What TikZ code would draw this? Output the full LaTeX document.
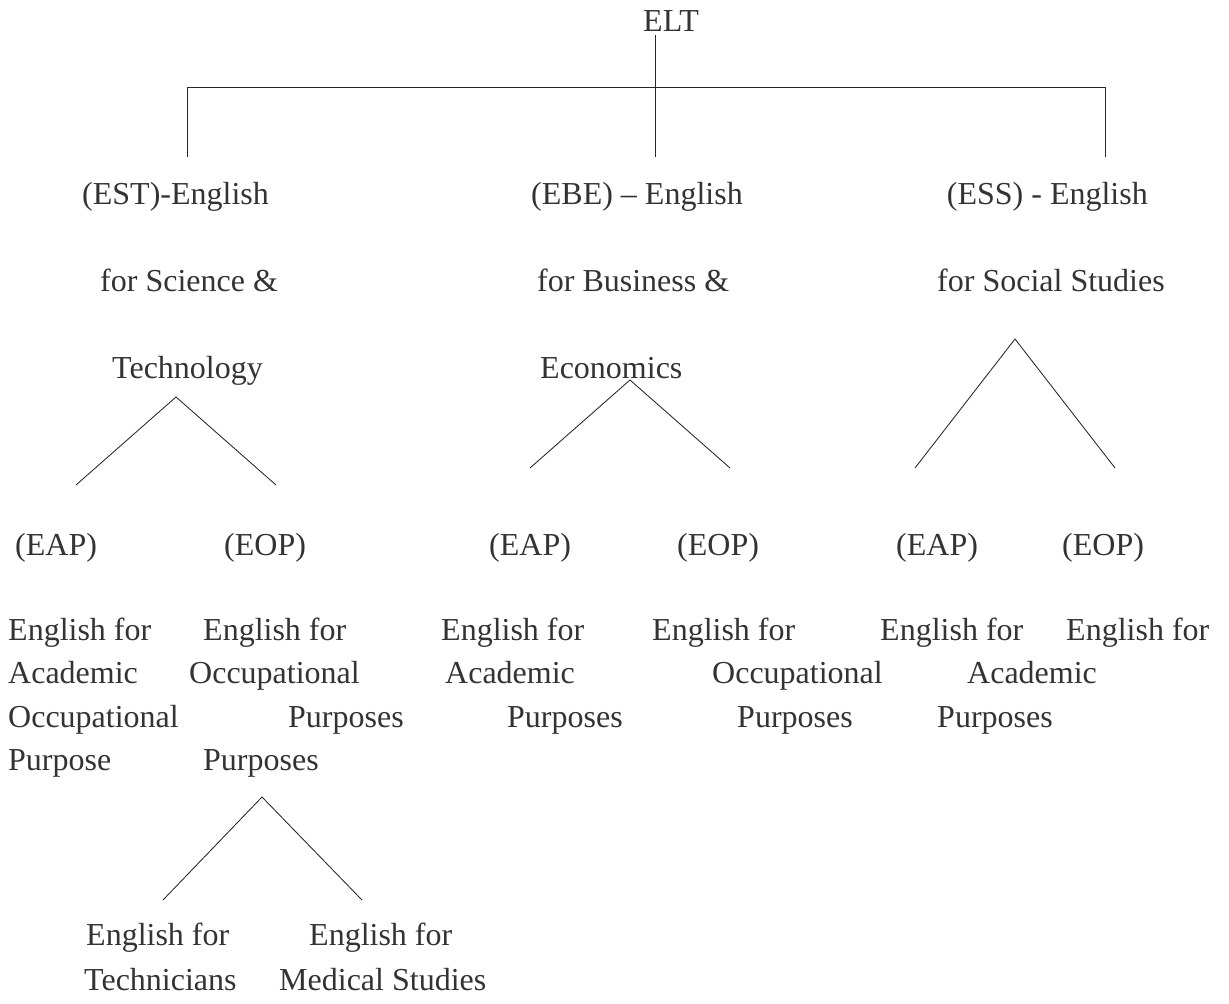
\documentclass[tikz,border=0pt]{standalone}
\usepackage{fontspec}
\setmainfont{Liberation Serif}
\definecolor{txt}{gray}{0.2}
\definecolor{lnc}{gray}{0.15}
\begin{document}
\begin{tikzpicture}[x=1pt,y=-1pt,
  lbl/.style={anchor=base west, inner sep=0pt, text=txt, font=\fontsize{32}{38}\selectfont},
  lble/.style={lbl, anchor=base east},
  ln/.style={line width=0.85pt, lnc}]
\useasboundingbox (0,0) rectangle (1229,1004);
% top
\node[lbl] (elt) at (643,31) {ELT};
\coordinate (eltb) at (655,35);
\coordinate (hl) at (187,87);
\coordinate (hr) at (1105,87);
\coordinate (dl) at (187,157);
\coordinate (dm) at (655,157);
\coordinate (dr) at (1105,157);
\draw[ln] (eltb) -- (dm);
\draw[ln] (dl) -- (hl) -- (hr) -- (dr);
% second level
\node[lbl] (est1) at (82,204) {(EST)-English};
\node[lbl] (est2) at (100,291) {for Science \&};
\node[lbl] (est3) at (112,378) {Technology};
\node[lbl] (ebe1) at (531,204) {(EBE) -- English};
\node[lbl] (ebe2) at (537,291) {for Business \&};
\node[lbl] (ebe3) at (540,378) {Economics};
\node[lble] (ess1) at (1148,204) {(ESS) - English};
\node[lbl] (ess2) at (937,291) {for Social Studies};
% triangles
\coordinate (ta1) at (176,397); \coordinate (tl1) at (76,485); \coordinate (tr1) at (276,485);
\coordinate (ta2) at (630,380); \coordinate (tl2) at (530,468); \coordinate (tr2) at (730,468);
\coordinate (ta3) at (1015,339); \coordinate (tl3) at (915,468); \coordinate (tr3) at (1115,468);
\draw[ln] (tl1) -- (ta1) -- (tr1);
\draw[ln] (tl2) -- (ta2) -- (tr2);
\draw[ln] (tl3) -- (ta3) -- (tr3);
% third level
\node[lbl] (eap1) at (15,555) {(EAP)};
\node[lbl] (eop1) at (224,555) {(EOP)};
\node[lbl] (eap2) at (489,555) {(EAP)};
\node[lbl] (eop2) at (677,555) {(EOP)};
\node[lbl] (eap3) at (896,555) {(EAP)};
\node[lbl] (eop3) at (1062,555) {(EOP)};
% descriptions
\node[lbl] (c1a) at (8,640) {English for};
\node[lbl] (c1b) at (8,683) {Academic};
\node[lbl] (c1c) at (8,727) {Occupational};
\node[lbl] (c1d) at (8,770) {Purpose};
\node[lbl] (c2a) at (203,640) {English for};
\node[lbl] (c2b) at (189,683) {Occupational};
\node[lbl] (c2c) at (288,727) {Purposes};
\node[lbl] (c2d) at (203,770) {Purposes};
\node[lbl] (c3a) at (441,640) {English for};
\node[lbl] (c3b) at (445,683) {Academic};
\node[lbl] (c3c) at (507,727) {Purposes};
\node[lbl] (c4a) at (652,640) {English for};
\node[lbl] (c4b) at (712,683) {Occupational};
\node[lbl] (c4c) at (737,727) {Purposes};
\node[lbl] (c5a) at (880,640) {English for};
\node[lbl] (c5b) at (967,683) {Academic};
\node[lbl] (c5c) at (937,727) {Purposes};
\node[lbl] (c6a) at (1066,640) {English for};
% bottom triangle
\coordinate (ta4) at (262,797); \coordinate (tl4) at (163,900); \coordinate (tr4) at (362,900);
\draw[ln] (tl4) -- (ta4) -- (tr4);
\node[lbl] (b1a) at (86,945) {English for};
\node[lbl] (b1b) at (84,990) {Technicians};
\node[lbl] (b2a) at (309,945) {English for};
\node[lbl] (b2b) at (279,990) {Medical Studies};
\end{tikzpicture}
\end{document}
